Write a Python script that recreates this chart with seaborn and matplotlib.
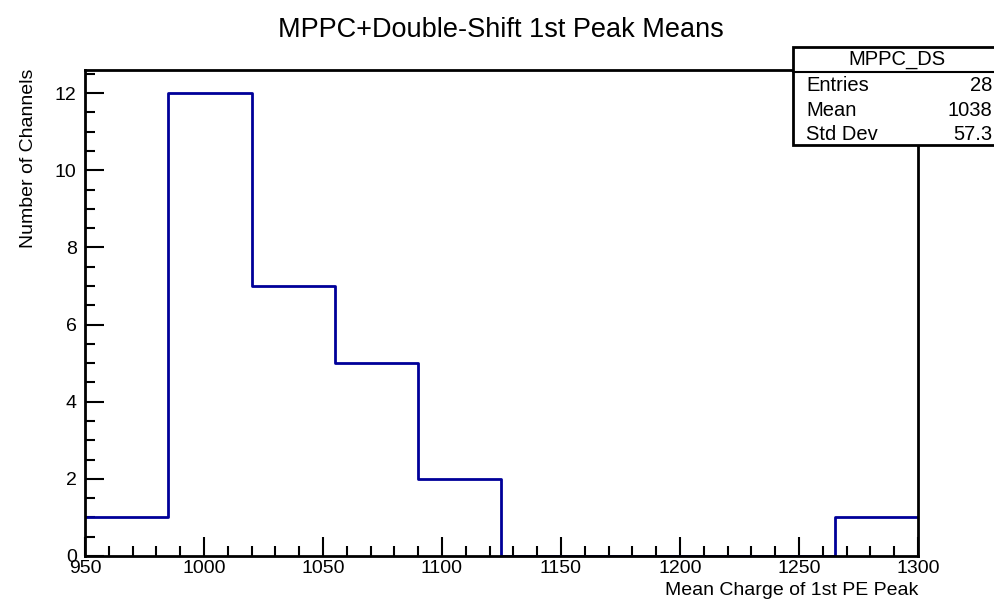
import numpy as np
import pandas as pd
import seaborn as sns
import matplotlib.pyplot as plt
from matplotlib.ticker import MultipleLocator

# histogram contents (bin width 35, 950..1300)
bin_edges = [950, 985, 1020, 1055, 1090, 1125, 1160, 1195, 1230, 1265, 1300]
bin_counts = [1, 12, 7, 5, 2, 0, 0, 0, 0, 1]
stats_labels = ["Entries", "Mean", "Std Dev"]
stats_values = ["28", "1038", "57.3"]

centers = [(a + b) / 2 for a, b in zip(bin_edges[:-1], bin_edges[1:])]
df = pd.DataFrame({"charge": centers, "n": bin_counts})

sns.set_style("white")
plt.rcParams['font.family'] = ['Liberation Sans', 'DejaVu Sans']
plt.rcParams['text.color'] = 'black'
plt.rcParams['xtick.color'] = 'black'
plt.rcParams['ytick.color'] = 'black'

fig = plt.figure(figsize=(9.95, 5.99), dpi=100)
ax = fig.add_axes([0.0854, 0.0718, 0.8372, 0.8113])

sns.histplot(data=df, x="charge", weights="n", bins=bin_edges, element="step",
             fill=False, color="#000099", linewidth=2, ax=ax)

ax.set_xlim(950, 1300)
ax.set_ylim(0, 12.6)
ax.xaxis.set_major_locator(MultipleLocator(50))
ax.xaxis.set_minor_locator(MultipleLocator(10))
ax.yaxis.set_major_locator(MultipleLocator(2))
ax.yaxis.set_minor_locator(MultipleLocator(0.5))
ax.tick_params(which="both", direction="in", bottom=True, left=True, top=False, right=False,
               labelsize=14, width=1.5)
ax.tick_params(which="major", length=14)
ax.tick_params(which="minor", length=7)
ax.tick_params(axis="x", pad=3)
ax.tick_params(axis="y", pad=6)
for s in ax.spines.values():
    s.set_linewidth(2)
    s.set_color("black")

ax.set_xlabel("")
ax.set_ylabel("")
fig.text(0.9226, 0.0, "Mean Charge of 1st PE Peak", ha="right", va="bottom", fontsize=14)
fig.text(0.020, 0.885, "Number of Channels", ha="left", va="top", rotation=90, fontsize=14)
fig.text(0.503, 0.95, "MPPC+Double-Shift 1st Peak Means", ha="center", va="center", fontsize=19.5)

# stats box
bx0, bx1 = 793 / 995, 1.2
by_top, by_bot, by_head = 1 - 47 / 599, 1 - 145 / 599, 1 - 72 / 599
fig.patches.append(plt.Rectangle((bx0, by_bot), bx1 - bx0, by_top - by_bot, transform=fig.transFigure,
                                 facecolor="white", edgecolor="black", linewidth=2, zorder=5))
fig.lines.append(plt.Line2D([bx0, 1], [by_head, by_head], transform=fig.transFigure, color="black",
                            linewidth=1.5, zorder=6))
fig.text((bx0 + 1) / 2 + 0.003, (by_top + by_head) / 2, "MPPC_DS", ha="center", va="center", fontsize=14.5, zorder=7)
row_h = (by_head - by_bot) / 3
for i, (lab, val) in enumerate(zip(stats_labels, stats_values)):
    y = by_head - row_h * (i + 0.5) - 0.003
    fig.text(806 / 995, y, lab, ha="left", va="center", fontsize=14.5, zorder=7)
    fig.text(0.997, y, val, ha="right", va="center", fontsize=14.5, zorder=7)

fig.savefig("out.png", dpi=100)
